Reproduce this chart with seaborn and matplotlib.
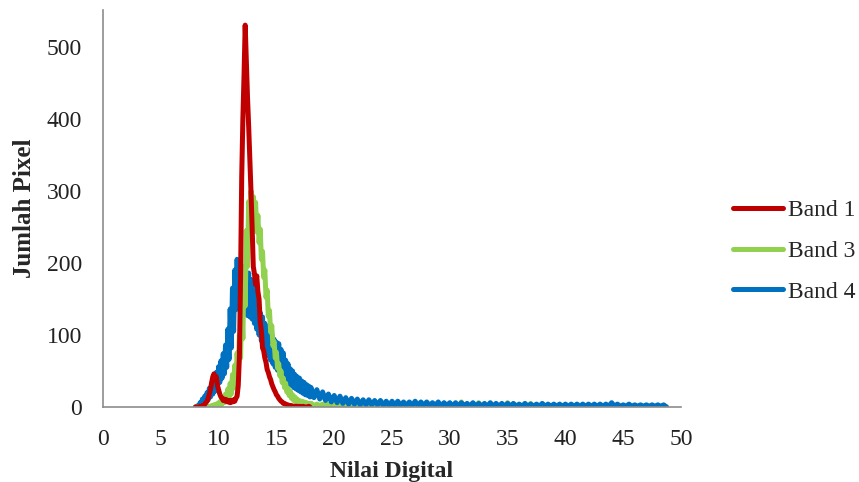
import numpy as np
import pandas as pd
import matplotlib
matplotlib.use("Agg")
import matplotlib.pyplot as plt
from matplotlib.lines import Line2D
import seaborn as sns

# ---------------- data ----------------
# Band 1: single trace, 8.0 .. 17.9 step 0.1
band1_x = np.round(np.arange(8.0, 17.95, 0.1), 1)
band1 = [
    0, 0, 0, 0, 1, 0, 2, 1, 4, 6,
    8, 12, 18, 25, 34, 42, 46, 40, 42, 30,
    24, 18, 14, 12, 9, 11, 8, 10, 7, 9,
    6, 9, 7, 10, 8, 12, 15, 30, 70, 180,
    320, 400, 460, 530, 480, 430, 390, 345, 300, 250,
    195, 185, 170, 182, 160, 150, 118, 105, 82, 78,
    68, 62, 52, 48, 42, 38, 32, 28, 24, 21,
    17, 15, 12, 10, 8, 7, 5, 5, 4, 3,
    3, 2, 2, 2, 1, 1, 1, 1, 1, 0,
    1, 0, 0, 1, 0, 0, 0, 0, 1, 0,
]

# Bands 3 and 4 are very noisy: their highs and lows.
# grid 8.0 .. 17.8 (step 0.2) then 18.0 .. 48.5 (step 0.5); lows sit half a step later
grid_fine = np.round(np.arange(8.0, 17.85, 0.2), 1)
grid_tail = np.arange(18.0, 48.75, 0.5)

band3_high = [
    0, 0, 0, 0, 0, 1, 1, 2, 3, 4,
    6, 9, 13, 18, 25, 33, 45, 58, 75, 100,
    140, 195, 245, 285, 300, 292, 284, 266, 247, 216,
    190, 162, 134, 113, 91, 76, 60, 50, 40, 33,
    26, 22, 17, 14, 11, 9, 8, 7, 6, 5,
    # tail 18.0 .. 48.5
    5, 4, 4, 4, 5, 3, 4, 3, 3, 3,
    3, 3, 8, 3, 3, 3, 3, 2, 3, 3,
    2, 3, 3, 2, 2, 3, 7, 2, 3, 6,
    2, 2, 2, 2, 6, 2, 2, 2, 5, 2,
    2, 2, 2, 2, 2, 2, 2, 2, 2, 2,
    2, 2, 2, 2, 2, 2, 2, 2, 2, 1,
    1, 1,
]
band3_low = [
    0, 0, 0, 0, 0, 0, 0, 0, 1, 1,
    2, 4, 6, 9, 13, 18, 26, 36, 50, 68,
    95, 140, 195, 240, 262, 255, 243, 228, 205, 180,
    152, 126, 104, 85, 68, 54, 43, 34, 27, 21,
    16, 12, 9, 7, 5, 4, 3, 3, 2, 2,
    # tail
    2, 2, 1, 1, 1, 1, 1, 1, 1, 1,
    1, 1, 1, 1, 1, 1, 0, 1, 0, 1,
    0, 1, 0, 0, 1, 0, 0, 1, 0, 0,
    0, 0, 0, 0, 0, 0, 0, 0, 0, 0,
    0, 0, 0, 0, 0, 0, 0, 0, 0, 0,
    0, 0, 0, 0, 0, 0, 0, 0, 0, 0,
    0, 0,
]

band4_high = [
    0, 2, 6, 11, 15, 20, 26, 33, 40, 48,
    56, 64, 74, 86, 108, 136, 165, 190, 205, 198,
    193, 190, 182, 186, 177, 176, 160, 147, 131, 125,
    116, 112, 104, 101, 94, 90, 88, 80, 75, 65,
    60, 53, 50, 45, 42, 40, 36, 34, 31, 29,
    # tail 18.0 .. 48.5
    27, 24, 21, 18, 16, 15, 13, 12, 11, 10,
    10, 9, 9, 8, 8, 8, 7, 7, 8, 7,
    7, 6, 7, 6, 6, 6, 6, 5, 6, 5,
    5, 6, 5, 5, 5, 5, 4, 5, 4, 4,
    5, 4, 4, 4, 4, 4, 4, 4, 4, 4,
    4, 4, 6, 4, 3, 4, 3, 3, 3, 3,
    3, 3,
]
band4_low = [
    0, 0, 2, 4, 7, 10, 14, 18, 22, 28,
    34, 40, 46, 55, 66, 82, 105, 135, 155, 145,
    135, 130, 127, 125, 122, 116, 108, 100, 92, 84,
    77, 71, 65, 60, 55, 51, 47, 43, 39, 35,
    32, 30, 27, 25, 23, 21, 19, 17, 16, 14,
    # tail
    13, 11, 9, 7, 6, 5, 4, 4, 3, 3,
    3, 3, 2, 2, 2, 2, 2, 2, 2, 2,
    2, 2, 1, 2, 1, 1, 2, 1, 1, 1,
    1, 1, 1, 1, 1, 1, 1, 1, 1, 1,
    1, 1, 1, 1, 1, 1, 1, 1, 1, 1,
    1, 1, 1, 1, 1, 1, 1, 1, 1, 1,
    1, 0,
]

series_names = ["Band 1", "Band 3", "Band 4"]
series_colors = ["#C00000", "#92D050", "#0070C0"]
x_ticks = list(range(0, 51, 5))
y_ticks = list(range(0, 501, 100))


# ---------------- long table ----------------
def zigzag(high, low):
    """Interleave highs and lows: each low sits half a grid step after its high."""
    grid = np.concatenate([grid_fine, grid_tail])
    half = np.concatenate([np.full(len(grid_fine), 0.1), np.full(len(grid_tail), 0.25)])
    xs = np.empty(2 * len(grid))
    ys = np.empty(2 * len(grid))
    xs[0::2], xs[1::2] = grid, grid + half
    ys[0::2], ys[1::2] = high, low
    return xs, ys


x3, y3 = zigzag(band3_high, band3_low)
x4, y4 = zigzag(band4_high, band4_low)
df1 = pd.DataFrame({"x": band1_x, "y": np.asarray(band1, float), "Band": "Band 1"})
df3 = pd.DataFrame({"x": x3, "y": y3, "Band": "Band 3"})
df4 = pd.DataFrame({"x": x4, "y": y4, "Band": "Band 4"})

# ---------------- style ----------------
sns.set_style("white")
plt.rcParams["font.family"] = ["Liberation Serif", "DejaVu Serif"]
plt.rcParams["path.simplify"] = False

fig = plt.figure(figsize=(8.59, 4.82), dpi=100)
ax = fig.add_axes([103 / 859, 1 - 407 / 482, (681 - 103) / 859, (407 - 10) / 482])

palette = dict(zip(series_names, series_colors))
common = dict(x="x", y="y", hue="Band", palette=palette, estimator=None, sort=False,
              linewidth=3.6, ax=ax, legend=False,
              solid_joinstyle="round", solid_capstyle="round")
# layering: Band 3 tail under Band 4, Band 3 peak and Band 1 above Band 4
sns.lineplot(data=df3[df3["x"] >= 17.9], **common)
sns.lineplot(data=df4, **common)
sns.lineplot(data=df3[df3["x"] <= 18.0], **common)
sns.lineplot(data=df1, **common)

ax.set_xlim(0, 50)
ax.set_ylim(0, 551)
ax.set_xticks(x_ticks)
ax.set_yticks(y_ticks)
ax.tick_params(axis="both", length=0, labelsize=17, colors="#222222")
ax.tick_params(axis="x", pad=16)
ax.tick_params(axis="y", pad=15)

for side in ["top", "right"]:
    ax.spines[side].set_visible(False)
for side in ["left", "bottom"]:
    ax.spines[side].set_color("#8c8c8c")
    ax.spines[side].set_linewidth(1.2)

ax.set_xlabel("Nilai Digital", fontsize=17, fontweight="bold", labelpad=8)
ax.set_ylabel("Jumlah Pixel", fontsize=18, fontweight="bold", labelpad=8)

handles = [Line2D([0], [0], color=c, lw=3.6, solid_capstyle="round") for c in series_colors]
fig.legend(handles, series_names, loc="center left", bbox_to_anchor=(716 / 859, 1 - 251 / 482),
           frameon=False, fontsize=17, handlelength=2.15, handletextpad=0.2,
           labelspacing=0.82, borderpad=0.2)

fig.savefig("out.png", dpi=100)
